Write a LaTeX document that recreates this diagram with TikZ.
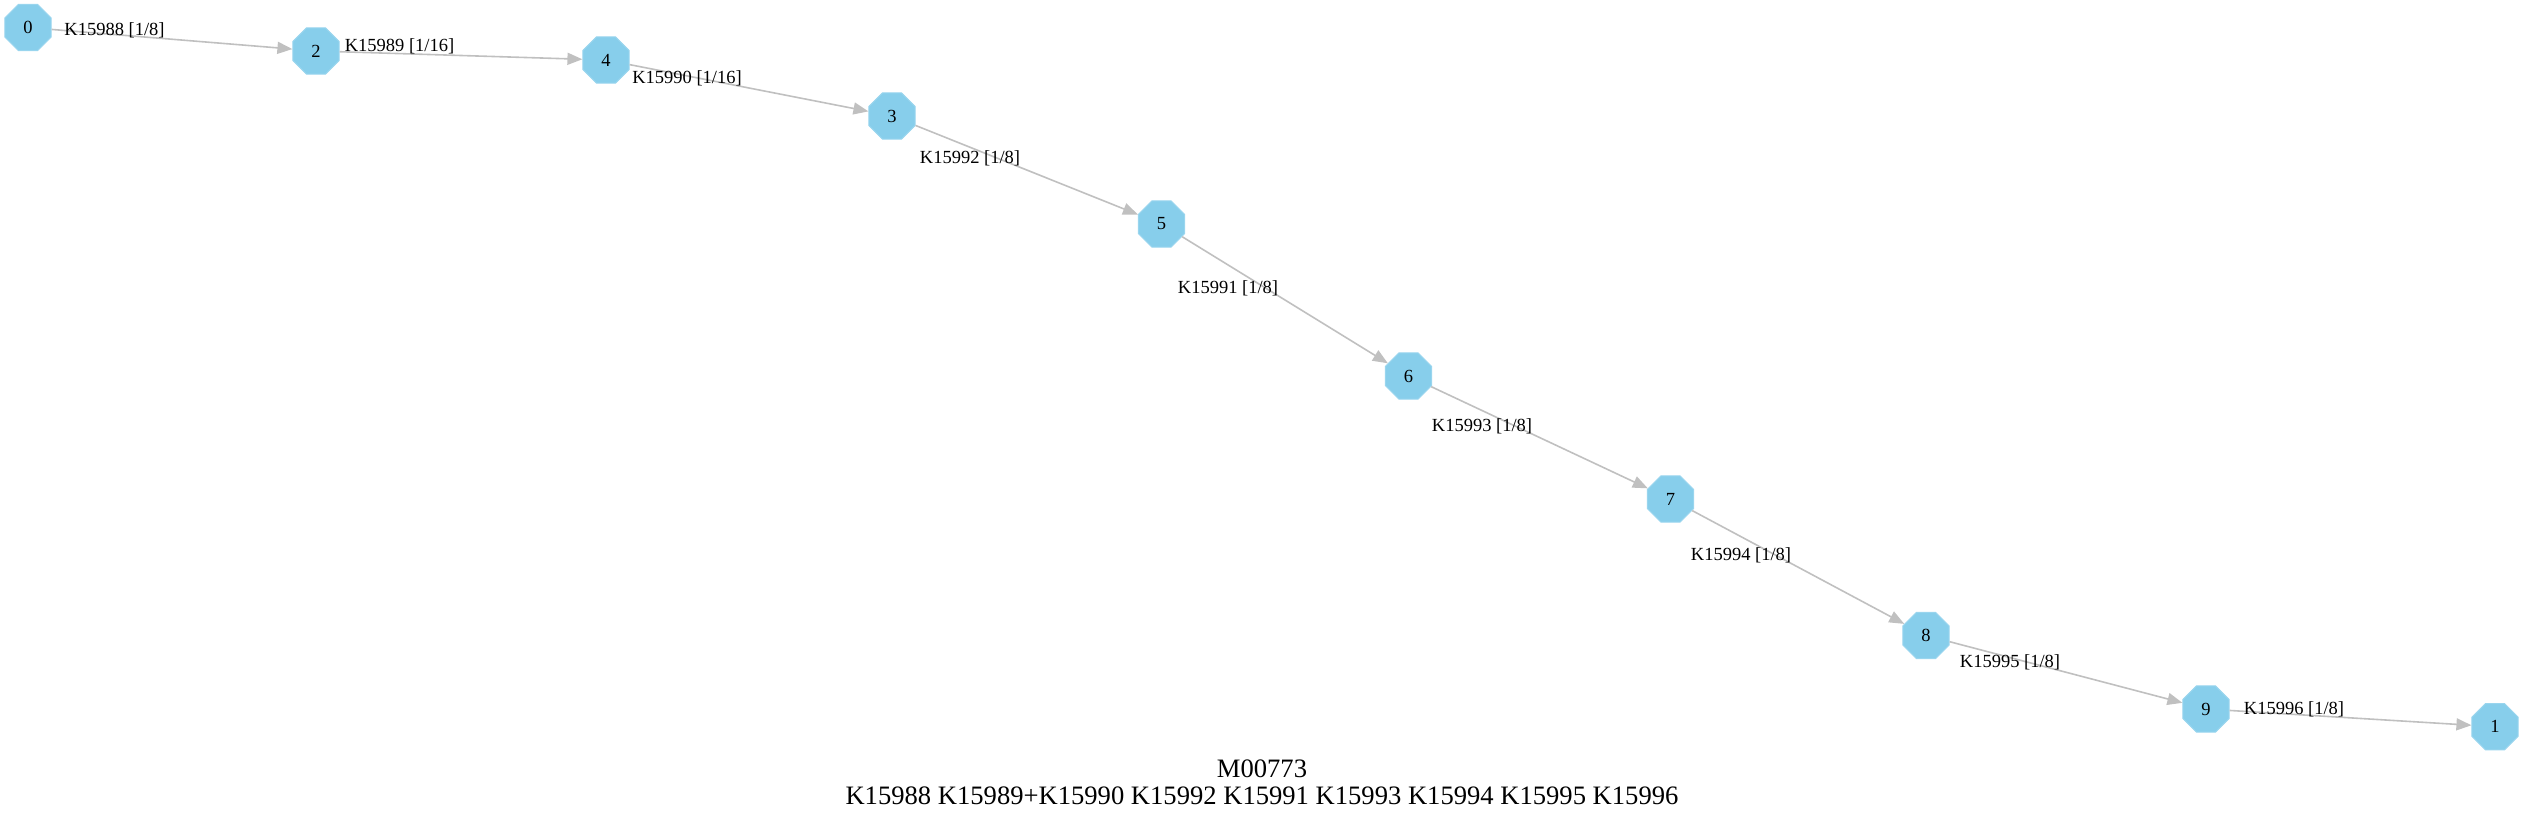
\documentclass[tikz,border=0pt]{standalone}
\usepackage{fontspec}
\setmainfont{Liberation Serif}
\usetikzlibrary{arrows.meta,shapes.geometric}
\definecolor{nodeblue}{HTML}{87CEEB}
\definecolor{edgegray}{HTML}{C0C0C0}
\begin{document}
\begin{tikzpicture}[x=1pt,y=-1pt,
  state/.style={regular polygon, regular polygon sides=8, minimum size=50pt, inner sep=0pt,
    fill=nodeblue, draw=nodeblue!85!white, line width=1pt, font=\fontsize{18.5}{20}\selectfont},
  elabel/.style={font=\fontsize{18.5}{20}\selectfont, inner sep=0pt},
  titletext/.style={font=\fontsize{26.6}{29}\selectfont, inner sep=0pt},
  link/.style={draw=edgegray, line width=1.6pt, -{Triangle[length=15pt,width=12pt]}}]
\useasboundingbox (0,0) rectangle (2526,819);
\node[state] (n0) at (28,27.5) {0};
\node[state] (n2) at (316,51) {2};
\node[state] (n4) at (606,60) {4};
\node[state] (n3) at (892,116) {3};
\node[state] (n5) at (1161.5,224) {5};
\node[state] (n6) at (1408.5,376) {6};
\node[state] (n7) at (1670.5,499) {7};
\node[state] (n8) at (1926,635.5) {8};
\node[state] (n9) at (2206,709) {9};
\node[state] (n1) at (2495,726.7) {1};
\draw[link] (n0) -- (n2);
\draw[link] (n2) -- (n4);
\draw[link] (n4) -- (n3);
\draw[link] (n3) -- (n5);
\draw[link] (n5) -- (n6);
\draw[link] (n6) -- (n7);
\draw[link] (n7) -- (n8);
\draw[link] (n8) -- (n9);
\draw[link] (n9) -- (n1);
\node[elabel] (l02) at (114.5,30) {K15988 [1/8]};
\node[elabel] (l24) at (399.5,46) {K15989 [1/16]};
\node[elabel] (l43) at (687,78) {K15990 [1/16]};
\node[elabel] (l35) at (970,158) {K15992 [1/8]};
\node[elabel] (l56) at (1228,288) {K15991 [1/8]};
\node[elabel] (l67) at (1482,426) {K15993 [1/8]};
\node[elabel] (l78) at (1741,555) {K15994 [1/8]};
\node[elabel] (l89) at (2010,662) {K15995 [1/8]};
\node[elabel] (l91) at (2294,709) {K15996 [1/8]};
\node[titletext] (t1) at (1262,769) {M00773};
\node[titletext] (t2) at (1262,796) {K15988 K15989+K15990 K15992 K15991 K15993 K15994 K15995 K15996};
\end{tikzpicture}
\end{document}
